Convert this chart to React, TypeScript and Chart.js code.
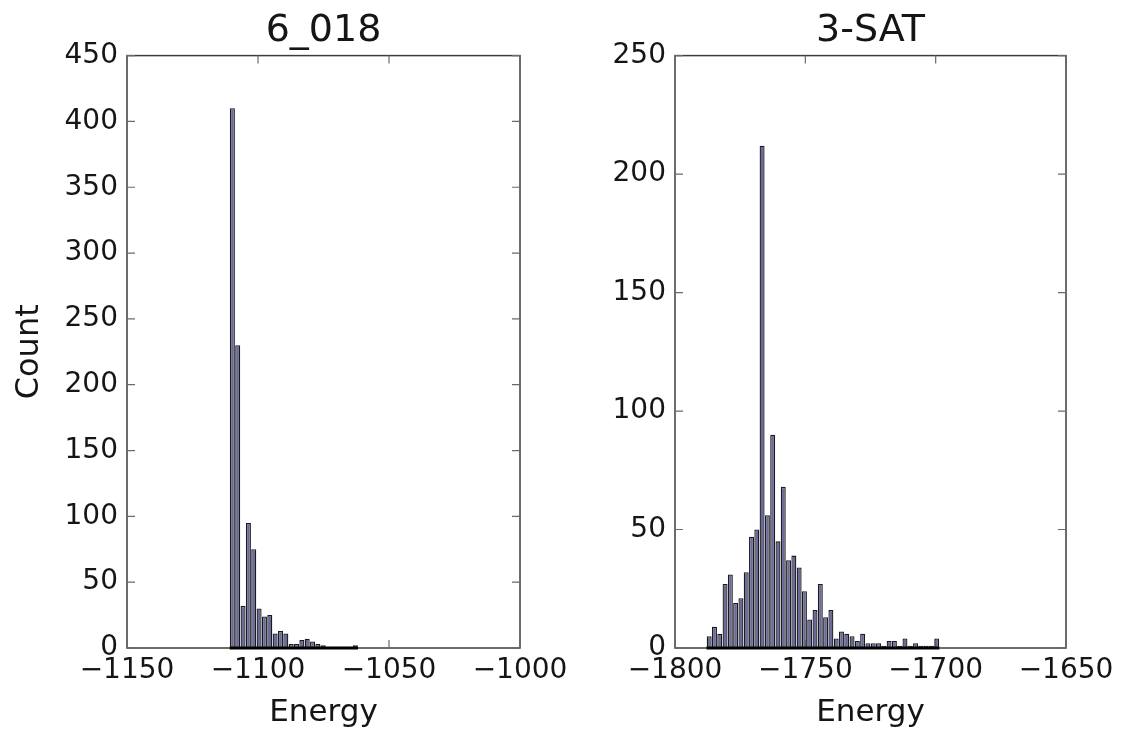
import React, { useEffect, useRef } from 'react';
import { Chart, registerables } from 'chart.js';

Chart.register(...registerables);

// 6_018 histogram: bin edges start at leftBinStart, each bin leftBinWidth wide
const leftTitle = '6_018';
const leftBinStart = -1110.8;
const leftBinWidth = 2.04;
const leftCounts = [410, 230, 32, 95, 75, 30, 24, 25, 11, 13, 11, 3, 3, 6, 7, 5, 3, 2, 1, 1, 1, 1, 1, 2];
const leftXRange = [-1150, -1000];
const leftYRange = [0, 450];

// 3-SAT histogram
const rightTitle = '3-SAT';
const rightBinStart = -1787.9;
const rightBinWidth = 2.03;
const rightCounts = [
  5, 9, 6, 27, 31, 19, 21, 32, 47, 50, 212, 56, 90, 45, 68, 37, 39, 34, 24, 12, 16, 27,
  13, 16, 4, 7, 6, 5, 3, 6, 2, 2, 2, 1, 3, 3, 1, 4, 1, 2, 1, 1, 1, 4,
];
const rightXRange = [-1800, -1650];
const rightYRange = [0, 250];

const tickStep = 50;
const xLabel = 'Energy';
const yLabel = 'Count';

const FONT = "'DejaVu Sans', sans-serif";
const TEXT = '#151515';

const fmt = (v: number) => (v < 0 ? '\u2212' + Math.abs(v) : String(v));

// Box around the plot area plus inward tick marks on all four sides
const framePlugin = {
  id: 'frame',
  beforeDatasetsDraw(chart: any) {
    const { ctx, chartArea: a, scales } = chart;
    ctx.save();
    ctx.strokeStyle = '#3c3c3c';
    ctx.lineWidth = 1.5;
    ctx.strokeRect(a.left, a.top, a.width, a.height);
    ctx.strokeStyle = '#6a6a6a';
    ctx.lineWidth = 1.2;
    const len = 8;
    ctx.beginPath();
    scales.x.ticks.forEach((t: any) => {
      const px = scales.x.getPixelForValue(t.value);
      ctx.moveTo(px, a.bottom);
      ctx.lineTo(px, a.bottom - len);
      ctx.moveTo(px, a.top);
      ctx.lineTo(px, a.top + len);
    });
    scales.y.ticks.forEach((t: any) => {
      const py = scales.y.getPixelForValue(t.value);
      ctx.moveTo(a.left, py);
      ctx.lineTo(a.left + len, py);
      ctx.moveTo(a.right, py);
      ctx.lineTo(a.right - len, py);
    });
    ctx.stroke();
    ctx.restore();
  },
};

function buildConfig(
  title: string,
  binStart: number,
  binWidth: number,
  counts: number[],
  xRange: number[],
  yRange: number[],
  yAxisWidth: number,
  padRight: number,
  showYTitle: boolean
): any {
  const bars = counts.map((c, i) => ({ x: binStart + (i + 0.5) * binWidth, y: c }));
  const baseline = [
    { x: binStart, y: 0 },
    { x: binStart + counts.length * binWidth, y: 0 },
  ];
  return {
    type: 'bar',
    data: {
      datasets: [
        {
          type: 'bar',
          data: bars,
          backgroundColor: '#6a6a96',
          borderColor: '#1a1a22',
          borderWidth: 1.3,
          barPercentage: 0.94,
          categoryPercentage: 1,
          order: 2,
        },
        {
          type: 'line',
          data: baseline,
          borderColor: '#000',
          borderWidth: 3,
          pointRadius: 0,
          clip: false,
          order: 1,
        },
      ],
    },
    options: {
      responsive: false,
      animation: false,
      devicePixelRatio: 1,
      layout: { padding: { top: 8, right: padRight, bottom: 0, left: 0 } },
      plugins: {
        legend: { display: false },
        tooltip: { enabled: false },
        title: {
          display: true,
          fullSize: false,
          text: title,
          color: TEXT,
          font: { family: FONT, size: 38, weight: 'normal' },
          padding: { top: 0, bottom: 2 },
        },
      },
      scales: {
        x: {
          type: 'linear',
          offset: false,
          min: xRange[0],
          max: xRange[1],
          grid: { display: false, drawTicks: false },
          border: { display: false },
          ticks: {
            stepSize: tickStep,
            color: TEXT,
            font: { family: FONT, size: 28 },
            padding: 6,
            maxRotation: 0,
            autoSkip: false,
            callback: (v: number) => fmt(v),
          },
          title: {
            display: true,
            text: xLabel,
            color: TEXT,
            font: { family: FONT, size: 31 },
            padding: { top: 0, bottom: 2 },
          },
          afterFit: (s: any) => {
            s.height = 86;
          },
        },
        y: {
          min: yRange[0],
          max: yRange[1],
          grid: { display: false, drawTicks: false },
          border: { display: false },
          ticks: {
            stepSize: tickStep,
            color: TEXT,
            font: { family: FONT, size: 28 },
            padding: 9,
            callback: (v: number) => fmt(v),
          },
          title: {
            display: showYTitle,
            text: yLabel,
            color: TEXT,
            font: { family: FONT, size: 32 },
            padding: { top: 10, bottom: 0 },
          },
          afterFit: (s: any) => {
            s.width = yAxisWidth;
          },
        },
      },
    },
    plugins: [framePlugin],
  };
}

function Histogram(props: { cfg: any; left: number; width: number }) {
  const ref = useRef<HTMLCanvasElement | null>(null);
  useEffect(() => {
    if (!ref.current) return;
    const chart = new Chart(ref.current, props.cfg);
    return () => chart.destroy();
  }, []);
  return (
    <canvas
      ref={ref}
      width={props.width}
      height={734}
      style={{ position: 'absolute', left: props.left, top: 0, width: props.width, height: 734 }}
    />
  );
}

export default function App() {
  const leftCfg = buildConfig(leftTitle, leftBinStart, leftBinWidth, leftCounts, leftXRange, leftYRange, 127, 55, true);
  const rightCfg = buildConfig(rightTitle, rightBinStart, rightBinWidth, rightCounts, rightXRange, rightYRange, 100, 70, false);
  return (
    <div style={{ position: 'fixed', left: 0, top: 0, width: 1136, height: 734, background: '#fff' }}>
      <Histogram cfg={leftCfg} left={0} width={575} />
      <Histogram cfg={rightCfg} left={575} width={561} />
    </div>
  );
}
